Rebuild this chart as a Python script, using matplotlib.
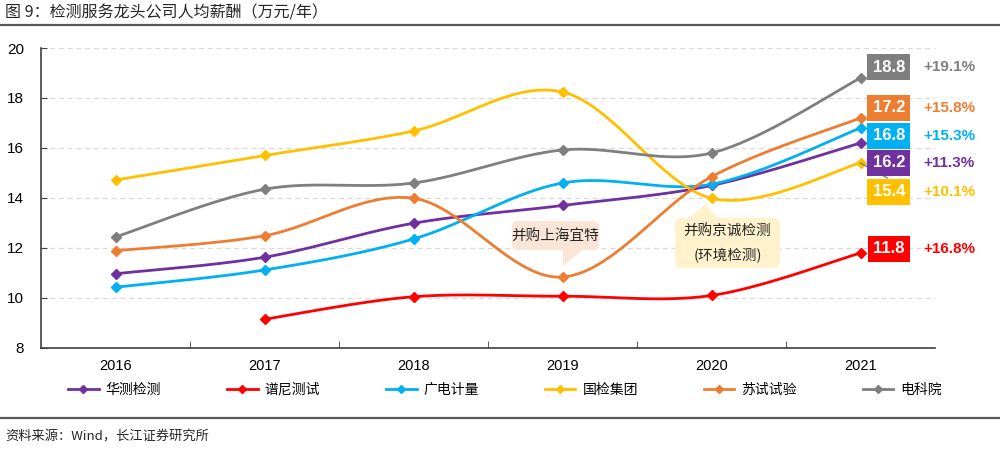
import numpy as np
import matplotlib
matplotlib.use("Agg")
import matplotlib.pyplot as plt
from matplotlib.lines import Line2D
from matplotlib.patches import FancyBboxPatch, Polygon

plt.rcParams['font.family'] = ['Liberation Sans', 'Noto Sans CJK SC', 'DejaVu Sans']

# data (万元/年)
years = ['2016', '2017', '2018', '2019', '2020', '2021']
names = ['华测检测', '谱尼测试', '广电计量', '国检集团', '苏试试验', '电科院']
colors = ['#7030A0', '#FF0000', '#00B0F0', '#FFC000', '#ED7D31', '#7F7F7F']
huace = [10.97, 11.63, 12.99, 13.70, 14.50, 16.2]
pony = [None, 9.15, 10.05, 10.07, 10.10, 11.8]
grg = [10.43, 11.12, 12.36, 14.60, 14.55, 16.8]
ctc = [14.72, 15.70, 16.68, 18.24, 13.99, 15.4]
suzhou = [11.89, 12.49, 13.99, 10.84, 14.85, 17.2]
dky = [12.44, 14.35, 14.60, 15.92, 15.80, 18.8]
growth = ['+11.3%', '+16.8%', '+15.3%', '+10.1%', '+15.8%', '+19.1%']
series = [huace, pony, grg, ctc, suzhou, dky]


def smooth(xs, ys, n=40):
    # excel-like smoothed line (catmull-rom as bezier)
    p = np.column_stack([xs, ys]).astype(float)
    pts = np.vstack([p[0], p, p[-1]])
    out = []
    t = np.linspace(0, 1, n)[:, None]
    for i in range(1, len(pts) - 2):
        p0, p3 = pts[i], pts[i + 1]
        c1 = p0 + (pts[i + 1] - pts[i - 1]) / 6
        c2 = p3 - (pts[i + 2] - pts[i]) / 6
        seg = ((1 - t) ** 3) * p0 + 3 * ((1 - t) ** 2) * t * c1 + 3 * (1 - t) * t ** 2 * c2 + t ** 3 * p3
        out.append(seg if i == 1 else seg[1:])
    s = np.vstack(out)
    return s[:, 0], s[:, 1]


fig = plt.figure(figsize=(10, 4.55), dpi=100)
ax = fig.add_axes([0.041, 0.2352, 0.894, 0.6593])

for vals, c in zip(series, colors):
    xs = [i for i, v in enumerate(vals) if v is not None]
    ys = [v for v in vals if v is not None]
    sx, sy = smooth(xs, ys)
    ax.plot(sx, sy, color=c, lw=2, zorder=3, solid_capstyle='round')
    ax.plot(xs, ys, ls='none', marker='D', ms=5, color=c, zorder=4)

ax.set_xlim(-0.5, 5.5)
ax.set_ylim(8, 20)
ax.set_yticks(range(8, 21, 2))
ax.set_xticks(range(len(years)))
ax.set_xticklabels(years)
ax.set_xticks(np.arange(0.5, 5, 1), minor=True)
ax.tick_params(axis='x', which='major', length=0, pad=8, labelsize=10.5)
ax.tick_params(axis='x', which='minor', direction='in', length=5, color='#404040')
ax.tick_params(axis='y', direction='in', length=4, labelsize=11, pad=12, color='#404040')
ax.grid(axis='y', ls=(0, (4, 3)), color='#D9D9D9', lw=0.9)
for s in ['top', 'right']:
    ax.spines[s].set_visible(False)
for s in ['left', 'bottom']:
    ax.spines[s].set_color('#404040')
    ax.spines[s].set_linewidth(1.2)

# end labels
box_y = [15.4, 11.96, 16.48, 14.24, 17.6, 19.24]
for vals, c, g, by in zip(series, colors, growth, box_y):
    ax.text(5.19, by, f'{vals[-1]:.1f}', color='white', fontsize=12, fontweight='bold',
            ha='center', va='center', zorder=6, clip_on=False,
            bbox=dict(boxstyle='square,pad=0.33', fc=c, ec='none'))
    ax.text(5.42, by, g, color=c, fontsize=11, fontweight='bold', ha='left', va='center',
            clip_on=False)
# leader for 15.4
ax.plot([5.0, 5.18], [ctc[-1], 14.8], color='#808080', lw=1, zorder=5, clip_on=False)

# callouts
box1 = FancyBboxPatch((2.66, 11.92), 0.585, 1.16, boxstyle='round,pad=0,rounding_size=0.04',
                      fc='#FBE5D6', ec='none', zorder=5, mutation_aspect=6.0)
ax.add_patch(box1)
ax.add_patch(Polygon([(3.003, 11.93), (3.137, 11.93), (3.003, 11.28)], closed=True,
                     fc='#FBE5D6', ec='none', zorder=5))
ax.text(2.952, 12.5, '并购上海宜特', fontsize=10.5, color='#262626', ha='center', va='center',
        zorder=6, family=['Noto Sans CJK SC'])

box2 = FancyBboxPatch((3.755, 11.2), 0.705, 2.0, boxstyle='round,pad=0,rounding_size=0.04',
                      fc='#FFF2CC', ec='none', zorder=5, mutation_aspect=6.0)
ax.add_patch(box2)
ax.add_patch(Polygon([(3.846, 13.19), (3.96, 13.75), (4.04, 13.19)], closed=True,
                     fc='#FFF2CC', ec='none', zorder=5))
ax.text(4.107, 12.66, '并购京诚检测', fontsize=10.5, color='#262626', ha='center', va='center',
        zorder=6, family=['Noto Sans CJK SC'])
ax.text(4.107, 11.7, '(环境检测)', fontsize=10.5, color='#262626', ha='center', va='center',
        zorder=6, family=['Noto Sans CJK SC'])

# legend
handles = [Line2D([], [], color=c, lw=2, marker='D', ms=4.5) for c in colors]
fig.legend(handles, names, loc='center', bbox_to_anchor=(0.505, 0.143), ncol=6,
           frameon=False, handlelength=2.2, handletextpad=0.5,
           columnspacing=4.75, prop={'family': ['Noto Sans CJK SC'], 'size': 10})

# title and source
fig.text(0.005, 0.972, '图 9：检测服务龙头公司人均薪酬（万元/年）', fontsize=11.5, color='#262626',
         ha='left', va='center', family=['Noto Sans CJK SC'])
fig.add_artist(Line2D([0, 1], [0.946, 0.946], color='#595959', lw=1.6))
fig.add_artist(Line2D([0, 1], [0.082, 0.082], color='#595959', lw=1.6))
fig.text(0.005, 0.04, '资料来源：Wind，长江证券研究所', fontsize=9.5, color='#262626',
         ha='left', va='center', family=['Noto Sans CJK SC', 'DejaVu Sans'])

fig.savefig('out.png', dpi=100)
